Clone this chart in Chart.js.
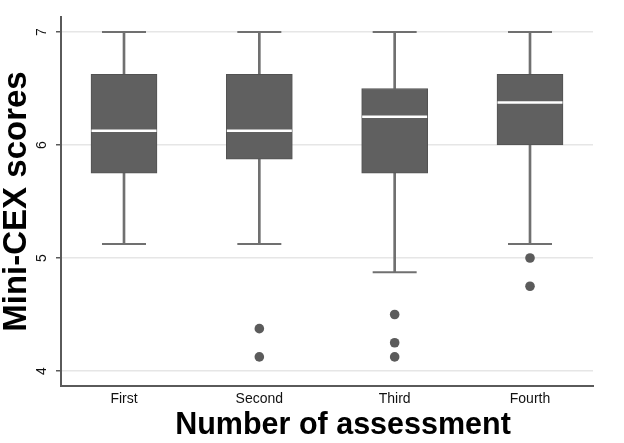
<!DOCTYPE html>
<html>
<head>
<meta charset="utf-8">
<script src="https://cdn.jsdelivr.net/npm/chart.js@4"></script>
<style>
  html, body { margin: 0; padding: 0; background: #fff; }
  #wrap { width: 624px; height: 443px; }
</style>
</head>
<body>
<div id="wrap"><canvas id="boxChart"></canvas></div>
<script>
// values
const categories = ['First', 'Second', 'Third', 'Fourth'];
const whiskerLow = [5.125, 5.125, 4.875, 5.125];
const q1 = [5.75, 5.875, 5.75, 6.0];
const medians = [6.125, 6.125, 6.25, 6.375];
const q3 = [6.625, 6.625, 6.5, 6.625];
const whiskerHigh = [7, 7, 7, 7];
const outliers = [[], [4.375, 4.125], [4.5, 4.25, 4.125], [5.0, 4.75]];
const yTicks = [4, 5, 6, 7];

const boxGrey = '#606060';
const whiskerGrey = '#707070';

// x positions are 1..4 on a linear axis
const pos = categories.map((c, i) => i + 1);

const outlierPoints = [];
outliers.forEach((list, i) => {
    list.forEach(v => outlierPoints.push({ x: pos[i], y: v }));
});

// x title sits a bit right of the plot centre in the original
const xTitlePlugin = {
    id: 'xTitle',
    afterDraw(chart) {
        const ctx = chart.ctx;
        const xs = chart.scales.x;
        ctx.save();
        ctx.font = 'bold 30.5px "Liberation Sans", Arial, sans-serif';
        ctx.fillStyle = '#000';
        ctx.textAlign = 'center';
        ctx.textBaseline = 'alphabetic';
        ctx.fillText('Number of assessment', (xs.left + xs.right) / 2 + 16, xs.top + 48);
        ctx.restore();
    }
};

const ctx = document.getElementById('boxChart').getContext('2d');
new Chart(ctx, {
    type: 'bar',
    data: {
        datasets: [
            {   // lower whisker stems
                type: 'bar',
                data: pos.map((x, i) => ({ x: x, y: [whiskerLow[i], q1[i]] })),
                backgroundColor: whiskerGrey,
                barThickness: 2,
                grouped: false,
                order: 4
            },
            {   // upper whisker stems
                type: 'bar',
                data: pos.map((x, i) => ({ x: x, y: [q3[i], whiskerHigh[i]] })),
                backgroundColor: whiskerGrey,
                barThickness: 2,
                grouped: false,
                order: 4
            },
            {   // boxes
                type: 'bar',
                data: pos.map((x, i) => ({ x: x, y: [q1[i], q3[i]] })),
                backgroundColor: boxGrey,
                borderColor: '#525252',
                borderWidth: 1,
                borderSkipped: false,
                barThickness: 66,
                grouped: false,
                order: 3
            },
            {   // whisker caps
                type: 'scatter',
                data: pos.flatMap((x, i) => [{ x: x, y: whiskerLow[i] }, { x: x, y: whiskerHigh[i] }]),
                pointStyle: 'line',
                pointRadius: 22,
                borderColor: whiskerGrey,
                borderWidth: 2,
                order: 2
            },
            {   // medians
                type: 'scatter',
                data: pos.map((x, i) => ({ x: x, y: medians[i] })),
                pointStyle: 'line',
                pointRadius: 32.5,
                borderColor: '#ffffff',
                borderWidth: 2.5,
                order: 1
            },
            {   // outside values
                type: 'scatter',
                data: outlierPoints,
                pointStyle: 'circle',
                pointRadius: 4.8,
                backgroundColor: '#5b5b5b',
                borderColor: '#5b5b5b',
                borderWidth: 0,
                order: 0
            }
        ]
    },
    options: {
        responsive: true,
        maintainAspectRatio: false,
        animation: false,
        events: [],
        layout: {
            autoPadding: false,  // the wide line points would otherwise push the plot in
            padding: { top: 17, right: 31, left: 0, bottom: 0 }
        },
        plugins: {
            legend: { display: false },
            tooltip: { enabled: false }
        },
        scales: {
            x: {
                type: 'linear',
                offset: false,
                min: 0.5345,
                max: 4.4655,
                afterBuildTicks: scale => {
                    scale.ticks = pos.map(v => ({ value: v }));
                },
                afterFit: scale => {
                    scale.height = 57;
                    scale.paddingLeft = 0;
                    scale.paddingRight = 0;
                },
                ticks: {
                    callback: value => categories[value - 1],
                    font: { family: '"Liberation Sans", Arial, sans-serif', size: 14 },
                    color: '#111',
                    padding: 5,
                    maxRotation: 0
                },
                grid: { display: false, drawTicks: false },
                border: { display: true, color: '#5a5a5a', width: 2 }
            },
            y: {
                type: 'linear',
                min: 3.8673,
                max: 7.1327,
                afterBuildTicks: scale => {
                    scale.ticks = yTicks.map(v => ({ value: v }));
                },
                afterFit: scale => {
                    scale.width = 61;
                    scale.paddingTop = 0;
                    scale.paddingBottom = 0;
                },
                ticks: {
                    font: { family: '"Liberation Sans", Arial, sans-serif', size: 14 },
                    color: '#111',
                    minRotation: 90,
                    maxRotation: 90,
                    crossAlign: 'center',
                    padding: 10
                },
                grid: {
                    color: '#e6e6e6',
                    lineWidth: 1.5,
                    drawTicks: true,
                    tickLength: 5,
                    tickColor: '#5a5a5a',
                    tickWidth: 1.5
                },
                border: { display: true, color: '#5a5a5a', width: 2 },
                title: {
                    display: true,
                    text: 'Mini-CEX scores',
                    color: '#000',
                    padding: 0,
                    font: { family: '"Liberation Sans", Arial, sans-serif', size: 33, weight: 'bold', lineHeight: 1 }
                }
            }
        }
    },
    plugins: [xTitlePlugin]
});
</script>
</body>
</html>
